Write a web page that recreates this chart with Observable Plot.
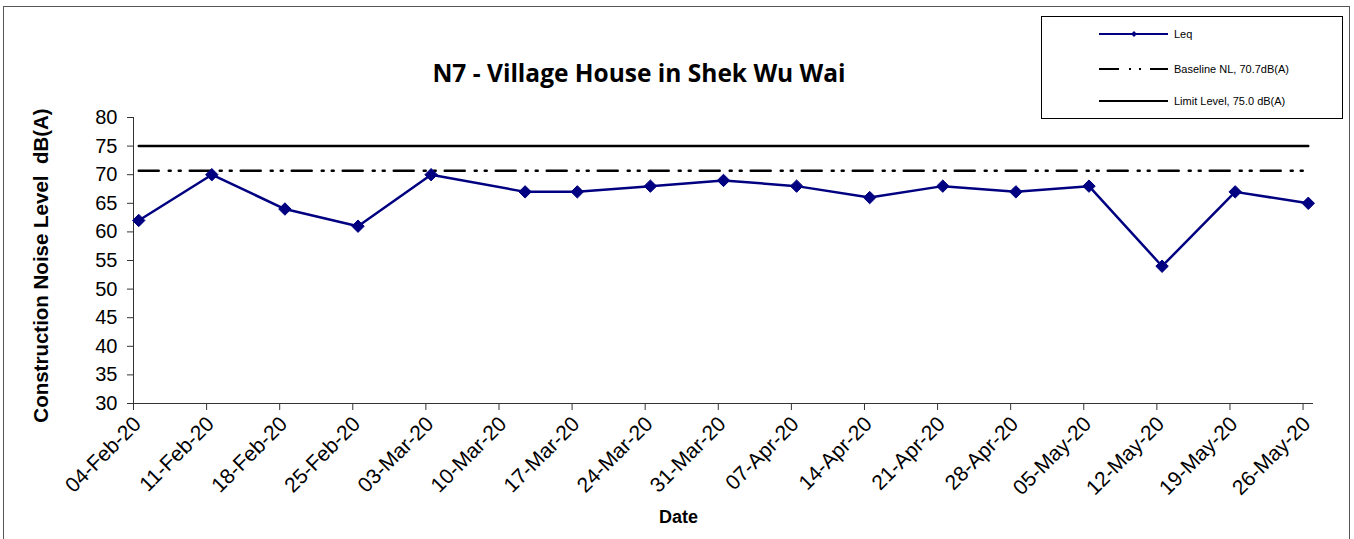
<!DOCTYPE html>
<html><head><meta charset="utf-8">
<script src="https://cdn.jsdelivr.net/npm/d3@7"></script>
<script src="https://cdn.jsdelivr.net/npm/@observablehq/plot@0.6"></script>
<style>
body{margin:0;background:#fff;overflow:hidden}
#wrap{position:relative;width:1354px;height:539px;font-family:"Liberation Sans",Arial,sans-serif;overflow:hidden}
#frame{position:absolute;left:3px;top:6px;width:1347px;height:600px;border:1px solid #555;box-sizing:border-box}
#chart{position:absolute;left:0;top:0}
#title{position:absolute;left:0;width:1278px;top:56px;line-height:33px;text-align:center;font-family:"Open Sans",sans-serif;font-weight:bold;font-size:24.5px;color:#000}
#legend{position:absolute;left:1041px;top:16px;width:302px;height:103px;border:1px solid #000;box-sizing:border-box;background:#fff}
svg text{white-space:pre}
</style></head><body>
<div id="wrap"><div id="frame"></div><div id="chart"></div><div id="title">N7 - Village House in Shek Wu Wai</div><div id="legend"></div></div>
<script>
// ---- data ----
const dates = ["2020-02-04","2020-02-11","2020-02-18","2020-02-25","2020-03-03","2020-03-12","2020-03-17","2020-03-24","2020-03-31","2020-04-07","2020-04-14","2020-04-21","2020-04-28","2020-05-05","2020-05-12","2020-05-19","2020-05-26"];
const leq = [62,70,64,61,70,67,67,68,69,68,66,68,67,68,54,67,65];
const baselineLevel = 70.7;
const limitLevel = 75.0;
const tickDates = ["2020-02-04","2020-02-11","2020-02-18","2020-02-25","2020-03-03","2020-03-10","2020-03-17","2020-03-24","2020-03-31","2020-04-07","2020-04-14","2020-04-21","2020-04-28","2020-05-05","2020-05-12","2020-05-19","2020-05-26"];
const yTicks = [30,35,40,45,50,55,60,65,70,75,80];
const seriesNames = ["Leq","Baseline NL, 70.7dB(A)","Limit Level, 75.0 dB(A)"];
const titleText = "N7 - Village House in Shek Wu Wai";
const yLabel = "Construction Noise Level  dB(A)";
const xLabel = "Date";

// ---- build ----
const parse = d3.utcParse("%Y-%m-%d");
const data = dates.map((d, i) => ({date: parse(d), leq: leq[i]}));
// Excel date axis: each day occupies a band, point drawn at band centre
const mid = d => d3.utcHour.offset(d.date, 12);
const x0 = parse(tickDates[0]);
const x1 = d3.utcDay.offset(parse(tickDates[tickDates.length - 1]), 1);
const navy = "#000080";
const dash = "20,10,2,8,2,9";
const xTickVals = tickDates.map(parse);

const chart = Plot.plot({
  width: 1354, height: 539,
  marginLeft: 133, marginRight: 41, marginTop: 117, marginBottom: 136,
  style: {fontFamily: "Liberation Sans, Arial, sans-serif", fontSize: "19px", color: "#000", background: "transparent", overflow: "visible"},
  x: {type: "utc", domain: [x0, x1]},
  y: {domain: [30, 80]},
  marks: [
    Plot.axisY({ticks: yTicks, tickSize: 6, tickPadding: 10, label: null, stroke: "#333", fontSize: 20}),
    Plot.axisX({ticks: xTickVals, tickFormat: () => "", tickSize: 7, label: null, stroke: "#333"}),
    Plot.axisX({ticks: xTickVals, tickFormat: d3.utcFormat("%d-%b-%y"), tickRotate: -45, tickSize: 0, tickPadding: 11, label: null, fontSize: 21, dx: 4, dy: 6}),
    Plot.ruleX([x0], {stroke: "#333"}),
    Plot.ruleY([30], {stroke: "#333"}),
    Plot.lineY(data, {x: mid, y: () => limitLevel, stroke: "#000", strokeWidth: 2.5}),
    Plot.lineY(data, {x: mid, y: () => baselineLevel, stroke: "#000", strokeWidth: 2.5, strokeDasharray: dash}),
    Plot.line(data, {x: mid, y: "leq", stroke: navy, strokeWidth: 2.5}),
    Plot.dot(data, {x: mid, y: "leq", symbol: "diamond2", r: 5.6, fill: navy, stroke: navy, strokeWidth: 1}),
    Plot.text([yLabel], {frameAnchor: "left", textAnchor: "middle", rotate: -90, dx: -92, dy: 5, fontWeight: "bold", fontSize: 20.5}),
    Plot.text([xLabel], {frameAnchor: "bottom", dx: -45, dy: 119, fontWeight: "bold", fontSize: 18})
  ]
});
document.getElementById("chart").appendChild(chart);

// ---- legend ----
const lg = d3.select("#legend").append("svg").attr("width", 300).attr("height", 101)
  .style("position", "absolute").style("left", 0).style("top", 0);
const rows = [
  {name: seriesNames[0], stroke: navy, dash: null, marker: true},
  {name: seriesNames[1], stroke: "#000", dash: dash, marker: false},
  {name: seriesNames[2], stroke: "#000", dash: null, marker: false}
];
const rowY = [17, 52, 84];
rows.forEach((r, i) => {
  const g = lg.append("g").attr("transform", `translate(0,${rowY[i]})`);
  g.append("line").attr("x1", 57).attr("x2", 126).attr("y1", 0).attr("y2", 0)
    .attr("stroke", r.stroke).attr("stroke-width", 2.2).attr("stroke-dasharray", r.dash);
  if (r.marker) g.append("path").attr("d", "M92,-3L95,0L92,3L89,0Z").attr("fill", navy);
  g.append("text").attr("x", 132).attr("y", 4).attr("font-size", 11)
    .attr("font-family", "Liberation Sans, Arial, sans-serif").text(r.name);
});
</script>
</body></html>
